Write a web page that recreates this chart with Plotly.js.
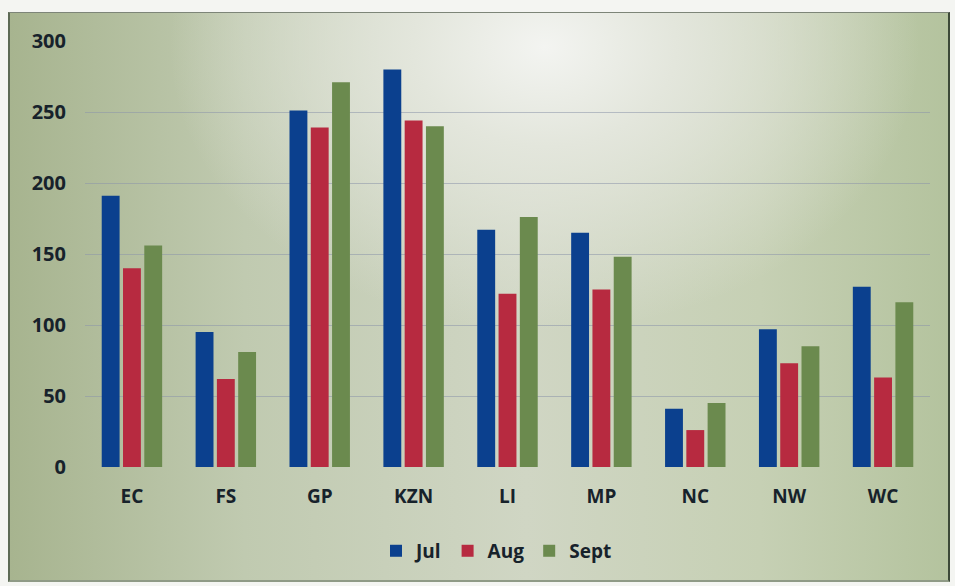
<!DOCTYPE html>
<html>
<head>
<meta charset="utf-8">
<script src="https://cdn.plot.ly/plotly-3.0.1.min.js"></script>
<style>
  html, body { margin:0; padding:0; background:#f4f5f2; }
  #bg { position:absolute; left:8px; top:12px; width:938px; height:567px;
        background: radial-gradient(ellipse 40% 50% at 57% 6%, #f3f4f1 0%, #e3e6dc 35%, rgba(200,210,185,0) 100%),
                    linear-gradient(90deg, #a7b48f 0%, #c0cab0 25%, #d0d6c4 55%, #c6d0b4 80%, #b4c39e 100%);
        border-left:2px solid #5d6a55; border-top:1px solid #7d8578; border-right:2px solid #3d4a38; border-bottom:2px solid #8f9a86; }
  #chart { position:absolute; left:0; top:0; width:955px; height:586px; }
</style>
</head>
<body>
<div id="bg"></div>
<div id="chart"></div>
<script>
const categories = ["EC", "FS", "GP", "KZN", "LI", "MP", "NC", "NW", "WC"];
const julValues  = [191, 95, 251, 280, 167, 165, 41, 97, 127];
const augValues  = [140, 62, 239, 244, 122, 125, 26, 73, 63];
const septValues = [156, 81, 271, 240, 176, 148, 45, 85, 116];
const seriesNames = ["Jul", "Aug", "Sept"];
const yTicks = [0, 50, 100, 150, 200, 250, 300];

const colors = ["#0b408e", "#b72a40", "#6b8a4e"];
const fam = "Open Sans, Noto Sans, sans-serif";
const txt = "#17222b";

const data = [julValues, augValues, septValues].map((v, i) => ({
  type: "bar", name: seriesNames[i], x: categories, y: v,
  marker: {color: colors[i]}
}));

const layout = {
  width: 955, height: 586,
  margin: {l: 85, r: 25, t: 41, b: 119},
  paper_bgcolor: "rgba(0,0,0,0)",
  plot_bgcolor: "rgba(0,0,0,0)",
  barmode: "group",
  bargap: 0.32,
  bargroupgap: 0.16,
  font: {family: fam, color: txt, size: 18, weight: 700},
  showlegend: true,
  legend: {orientation: "h", x: 0.487, xanchor: "center", y: -0.197, yanchor: "middle",
           font: {family: fam, size: 19, color: txt, weight: 700}, bgcolor: "rgba(0,0,0,0)",
           itemwidth: 30, tracegroupgap: 0},
  xaxis: {type: "category", showgrid: false, zeroline: false, showline: false, ticks: "",
          tickfont: {family: fam, size: 19, color: txt, weight: 700}, ticklabelstandoff: 16},
  yaxis: {range: [0, 300], tickvals: yTicks, showgrid: true, gridcolor: "rgba(140,150,170,0.55)", gridwidth: 1,
          zeroline: false, showline: false, ticks: "",
          tickfont: {family: fam, size: 20, color: txt, weight: 700}, ticklabelstandoff: 18}
};

Plotly.newPlot("chart", data, layout, {displayModeBar: false, staticPlot: true});
</script>
</body>
</html>
